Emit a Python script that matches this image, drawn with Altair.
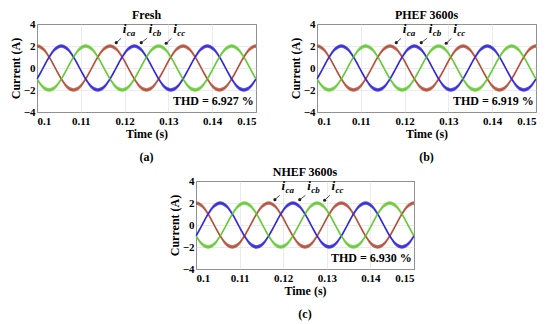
import altair as alt
import pandas as pd

# sampling grid: 0.1 s .. 0.15 s, 72 steps (15 degrees of a 60 Hz cycle)
TIME = [round(0.1 + i * 0.05 / 72, 6) for i in range(73)]

I_CA = [2.00, 1.93, 1.73, 1.41, 1.00, 0.52, 0.00, -0.52, -1.00, -1.41, -1.73, -1.93,
        -2.00, -1.93, -1.73, -1.41, -1.00, -0.52, 0.00, 0.52, 1.00, 1.41, 1.73, 1.93,
        2.00, 1.93, 1.73, 1.41, 1.00, 0.52, 0.00, -0.52, -1.00, -1.41, -1.73, -1.93,
        -2.00, -1.93, -1.73, -1.41, -1.00, -0.52, 0.00, 0.52, 1.00, 1.41, 1.73, 1.93,
        2.00, 1.93, 1.73, 1.41, 1.00, 0.52, 0.00, -0.52, -1.00, -1.41, -1.73, -1.93,
        -2.00, -1.93, -1.73, -1.41, -1.00, -0.52, 0.00, 0.52, 1.00, 1.41, 1.73, 1.93,
        2.00]
I_CB = [-1.00, -0.52, 0.00, 0.52, 1.00, 1.41, 1.73, 1.93, 2.00, 1.93, 1.73, 1.41,
        1.00, 0.52, 0.00, -0.52, -1.00, -1.41, -1.73, -1.93, -2.00, -1.93, -1.73, -1.41,
        -1.00, -0.52, 0.00, 0.52, 1.00, 1.41, 1.73, 1.93, 2.00, 1.93, 1.73, 1.41,
        1.00, 0.52, 0.00, -0.52, -1.00, -1.41, -1.73, -1.93, -2.00, -1.93, -1.73, -1.41,
        -1.00, -0.52, 0.00, 0.52, 1.00, 1.41, 1.73, 1.93, 2.00, 1.93, 1.73, 1.41,
        1.00, 0.52, 0.00, -0.52, -1.00, -1.41, -1.73, -1.93, -2.00, -1.93, -1.73, -1.41,
        -1.00]
I_CC = [-1.00, -1.41, -1.73, -1.93, -2.00, -1.93, -1.73, -1.41, -1.00, -0.52, 0.00, 0.52,
        1.00, 1.41, 1.73, 1.93, 2.00, 1.93, 1.73, 1.41, 1.00, 0.52, 0.00, -0.52,
        -1.00, -1.41, -1.73, -1.93, -2.00, -1.93, -1.73, -1.41, -1.00, -0.52, 0.00, 0.52,
        1.00, 1.41, 1.73, 1.93, 2.00, 1.93, 1.73, 1.41, 1.00, 0.52, 0.00, -0.52,
        -1.00, -1.41, -1.73, -1.93, -2.00, -1.93, -1.73, -1.41, -1.00, -0.52, 0.00, 0.52,
        1.00, 1.41, 1.73, 1.93, 2.00, 1.93, 1.73, 1.41, 1.00, 0.52, 0.00, -0.52,
        -1.00]

PHASES = ["ica", "icc", "icb"]
COLORS = ["#b24a33", "#62c830", "#2a20d8"]
RIPPLE = 0.17

PANEL_TITLES = ["Fresh", "PHEF 3600s", "NHEF 3600s"]
THD_TEXT = ["THD = 6.927 %", "THD = 6.919 %", "THD = 6.930 %"]
TAGS = ["(a)", "(b)", "(c)"]

LABEL_SUB = ["ca", "cb", "cc"]
LABEL_T = [0.1196, 0.1255, 0.1311]
LABEL_Y = [3.15, 3.15, 3.15]
TAIL_T = [0.1192, 0.1251, 0.1307]
TAIL_Y = [2.7, 2.7, 2.7]
TIP_T = [0.1181, 0.1238, 0.1295]
TIP_Y = [2.3, 2.3, 2.25]

THD_T = 0.1495
THD_Y = -3.0

FONT = "Liberation Serif, Times New Roman, DejaVu Serif, serif"

rows = []
for name, vals in (("ica", I_CA), ("icb", I_CB), ("icc", I_CC)):
    for t, v in zip(TIME, vals):
        rows.append({"t": t, "y": v, "phase": name})
wave = pd.DataFrame(rows)

labels = pd.DataFrame({"t": LABEL_T, "y": LABEL_Y, "sub": LABEL_SUB, "i": ["i"] * 3})
arrows = pd.DataFrame({"t": TAIL_T, "y": TAIL_Y, "t2": TIP_T, "y2": TIP_Y})


def panel(title, thd, tag, w, h):
    xs = alt.Scale(domain=[0.1, 0.15], nice=False, zero=False)
    ys = alt.Scale(domain=[-4, 4], nice=False)
    xaxis = alt.Axis(values=[0.1, 0.11, 0.12, 0.13, 0.14, 0.15], format=".2~f")
    yaxis = alt.Axis(values=[-4, -2, 0, 2, 4], labelOverlap=False)
    x = alt.X("t:Q", scale=xs, title="Time (s)", axis=xaxis)
    y = alt.Y("y:Q", scale=ys, title="Current (A)", axis=yaxis)
    color = alt.Color("phase:N", scale=alt.Scale(domain=PHASES, range=COLORS), legend=None)

    band = alt.Chart(wave).transform_calculate(
        lo=f"datum.y - {RIPPLE}", hi=f"datum.y + {RIPPLE}"
    ).mark_area(opacity=0.8, interpolate="monotone").encode(
        x=x, y=alt.Y("lo:Q", scale=ys, title="Current (A)", axis=yaxis), y2="hi:Q", color=color
    )
    line = alt.Chart(wave).mark_line(strokeWidth=1, interpolate="monotone").encode(
        x=x, y=y, color=color
    )
    arr = alt.Chart(arrows).mark_rule(color="#222", strokeWidth=0.8).encode(
        x=x, y=y, x2="t2:Q", y2="y2:Q"
    )
    tips = alt.Chart(arrows).mark_point(filled=True, color="#222", size=10, opacity=1).encode(
        x=alt.X("t2:Q", scale=xs, title="Time (s)", axis=xaxis),
        y=alt.Y("y2:Q", scale=ys, title="Current (A)", axis=yaxis),
    )
    itext = alt.Chart(labels).mark_text(
        font=FONT, fontSize=13, fontStyle="italic", fontWeight="bold", align="left",
        baseline="alphabetic", color="black"
    ).encode(x=x, y=y, text="i:N")
    stext = alt.Chart(labels).mark_text(
        font=FONT, fontSize=9, fontStyle="italic", fontWeight="bold", align="left",
        baseline="alphabetic", color="black", dx=4, dy=3
    ).encode(x=x, y=y, text="sub:N")
    thd_df = pd.DataFrame({"t": [THD_T], "y": [THD_Y], "s": [thd]})
    thd_t = alt.Chart(thd_df).mark_text(
        font=FONT, fontSize=12, fontWeight="bold", align="right", baseline="middle", color="black"
    ).encode(x=x, y=y, text="s:N")
    tag_df = pd.DataFrame({"s": [tag]})
    tag_t = alt.Chart(tag_df).mark_text(
        font=FONT, fontSize=12, fontWeight="bold", align="center", baseline="middle", color="black"
    ).encode(x=alt.value(w / 2), y=alt.value(h + 45), text="s:N")
    title_df = pd.DataFrame({"s": [title]})
    title_t = alt.Chart(title_df).mark_text(
        font=FONT, fontSize=12, fontWeight="bold", align="center", baseline="alphabetic", color="black"
    ).encode(x=alt.value(w / 2), y=alt.value(-5), text="s:N")

    return alt.layer(band, line, arr, tips, itext, stext, thd_t, tag_t, title_t).properties(
        width=w, height=h,
    )


pa = panel(PANEL_TITLES[0], THD_TEXT[0], TAGS[0], 219, 88)
pb = panel(PANEL_TITLES[1], THD_TEXT[1], TAGS[1], 219, 88)
pc = panel(PANEL_TITLES[2], THD_TEXT[2], TAGS[2], 218, 88)

spacer = alt.Chart(pd.DataFrame({"s": [""]})).mark_text().encode(
    text="s:N", x=alt.value(0), y=alt.value(0)
).properties(width=130, height=88, view=alt.ViewBackground(stroke="transparent", strokeWidth=0))

chart = alt.vconcat(
    alt.hconcat(pa, pb, spacing=29),
    alt.hconcat(spacer, pc, spacing=0),
    spacing=1,
).properties(
    padding={"left": 0, "top": 0, "right": 0, "bottom": 0},
    background="white",
).configure_view(
    stroke="#222", strokeWidth=1
).configure_axis(
    labelFont=FONT, labelFontSize=11, labelFontWeight="bold", labelColor="black",
    titleFont=FONT, titleFontSize=12, titleFontWeight="bold", titleColor="black",
    ticks=False, domain=False, gridColor="#dedede", gridWidth=0.6,
    labelPadding=3, titlePadding=2,
).configure_axisY(labelPadding=2, titlePadding=1)

chart.save("out.html", embed_options={"renderer": "svg", "actions": False})
